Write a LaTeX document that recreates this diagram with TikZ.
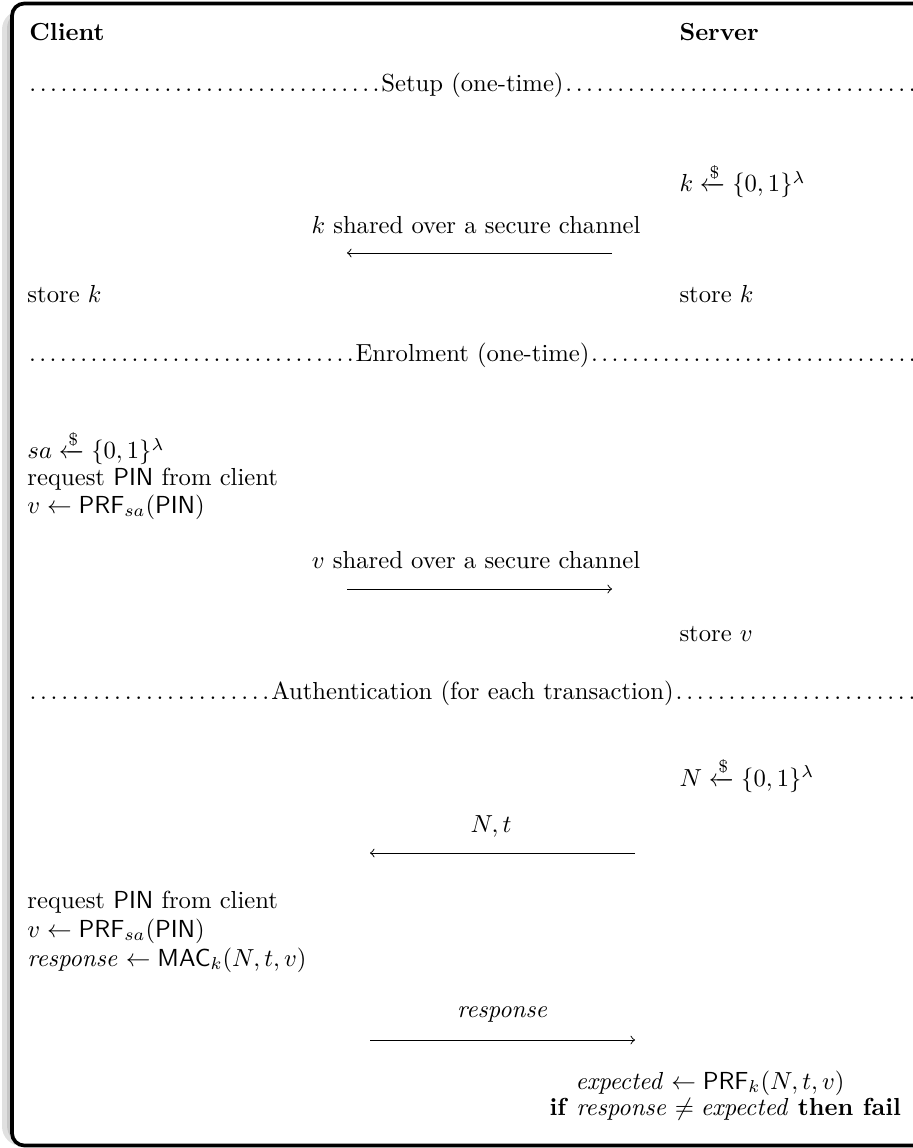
\documentclass[tikz,border=0pt]{standalone}
\usepackage{amsmath,amssymb}
\newcommand{\smp}{\mathrel{\xleftarrow{\$}}}
\newcommand{\mydots}{\xleaders\hbox to 4.13pt{\hss.\hss}\hfill}
\newcommand{\sepline}[1]{\makebox[890\dimexpr0.4057pt\relax]{\mydots#1\mydots}}
\begin{document}
\begin{tikzpicture}[x=0.4057pt,y=-0.4057pt,
  txt/.style={anchor=base west,inner sep=0pt},
  ctr/.style={anchor=base,inner sep=0pt},
  msg/.style={->,line width=0.4pt},
  sep/.style={anchor=base west,inner sep=0pt}]
\useasboundingbox (0,0) rectangle (912,1148);
% shadow and frame
\fill[black!12,rounded corners=8pt] (2,10) rectangle (940,1146);
\fill[black!22,rounded corners=8pt] (7,9) rectangle (940,1145);
\draw[line width=1.5pt,fill=white,rounded corners=5pt] (12,3.5) rectangle (945,1145.5);
% headers
\node[txt] (client) at (29,41) {\textbf{Client}};
\node[txt] (server) at (679,41) {\textbf{Server}};
% Setup
\node[sep] (setup) at (27,92) {\sepline{Setup (one-time)}};
\node[txt] (sk) at (679,192) {$k \smp \{0,1\}^\lambda$};
\node[ctr] (kshl) at (476,234) {$k$ shared over a secure channel};
\coordinate (ka) at (612,253);
\coordinate (kb) at (347,253);
\draw[msg] (ka) -- (kb);
\node[txt] (stck) at (27,303) {store $k$};
\node[txt] (stsk) at (679,303) {store $k$};
% Enrolment
\node[sep] (enrol) at (27,362) {\sepline{Enrolment (one-time)}};
\node[txt] (sa) at (27,459) {$sa \smp \{0,1\}^\lambda$};
\node[txt] (req1) at (27,486) {request \textsf{PIN} from client};
\node[txt] (v1) at (27,513) {$v \leftarrow \mathsf{PRF}_{sa}(\mathsf{PIN})$};
\node[ctr] (vshl) at (476,568) {$v$ shared over a secure channel};
\coordinate (va) at (347,589);
\coordinate (vb) at (612,589);
\draw[msg] (va) -- (vb);
\node[txt] (stv) at (679,641) {store $v$};
% Authentication
\node[sep] (auth) at (27,699) {\sepline{Authentication (for each transaction)}};
\node[txt] (nn) at (679,786) {$N \smp \{0,1\}^\lambda$};
\node[ctr] (ntl) at (491,832) {$N,t$};
\coordinate (na) at (635,853);
\coordinate (nb) at (370,853);
\draw[msg] (na) -- (nb);
\node[txt] (req2) at (27,908) {request \textsf{PIN} from client};
\node[txt] (v2) at (27,937) {$v \leftarrow \mathsf{PRF}_{sa}(\mathsf{PIN})$};
\node[txt] (resp) at (27,966) {$\mathit{response} \leftarrow \mathsf{MAC}_k(N,t,v)$};
\node[ctr] (rl) at (503,1017) {$\mathit{response}$};
\coordinate (ra) at (370,1040);
\coordinate (rb) at (635,1040);
\draw[msg] (ra) -- (rb);
\node[txt] (exp) at (575,1089) {$\mathit{expected} \leftarrow \mathsf{PRF}_k(N,t,v)$};
\node[txt] (iff) at (549,1115) {\textbf{if} $\mathit{response} \neq \mathit{expected}$ \textbf{then fail}};
\end{tikzpicture}
\end{document}
